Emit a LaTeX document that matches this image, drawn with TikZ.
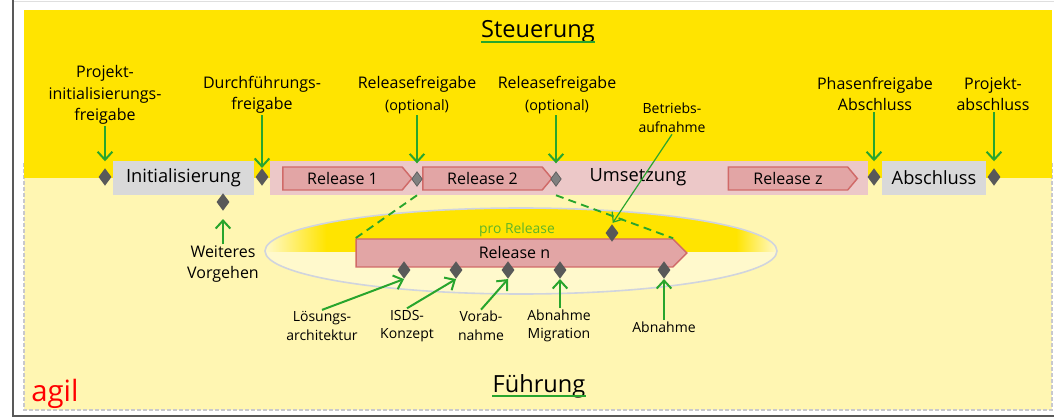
\documentclass[tikz,border=0pt]{standalone}
\usepackage{fontspec}
\setmainfont{Open Sans}
\usetikzlibrary{arrows.meta,positioning,shapes.geometric,shapes.symbols}

\definecolor{bandyellow}{RGB}{255,228,0}
\definecolor{lowyellow}{RGB}{255,246,178}
\definecolor{ellyellow}{RGB}{255,249,204}
\definecolor{phasegray}{RGB}{217,217,217}
\definecolor{umspink}{RGB}{236,200,200}
\definecolor{relfill}{RGB}{226,165,165}
\definecolor{reldraw}{RGB}{208,106,104}
\definecolor{msgray}{RGB}{89,89,89}
\definecolor{gategray}{RGB}{128,128,128}
\definecolor{arrgreen}{RGB}{40,165,45}
\definecolor{progreen}{RGB}{95,180,40}
\definecolor{ellline}{RGB}{208,212,222}
\definecolor{borderg}{RGB}{200,200,205}
\definecolor{agilred}{RGB}{255,0,0}

\pgfdeclarehorizontalshading{proshade}{100bp}{color(0bp)=(ellyellow); color(25bp)=(ellyellow);
  color(31bp)=(bandyellow); color(71bp)=(bandyellow); color(75bp)=(ellyellow); color(100bp)=(ellyellow)}

\tikzstyle{phase} = [rectangle, fill=phasegray, minimum height=25.5pt, inner sep=0pt,
    font=\fontsize{13.7}{16}\selectfont]
\tikzstyle{release} = [signal, signal to=east, signal pointer angle=100, draw=reldraw,
    line width=1.1pt, fill=relfill, inner sep=0pt, minimum width=96.75pt, minimum height=17.25pt,
    font=\fontsize{12}{14}\selectfont]
\tikzstyle{ms} = [diamond, fill=msgray, minimum width=9.8pt, minimum height=13.2pt, inner sep=0pt]
\tikzstyle{gate} = [diamond, fill=gategray, draw=msgray, line width=0.5pt,
    minimum width=8pt, minimum height=11pt, inner sep=0pt]
\tikzstyle{lbl} = [align=center, inner sep=1pt, font=\fontsize{12}{16}\selectfont]
\tikzstyle{smalllbl} = [align=center, inner sep=1pt, font=\fontsize{10.5}{14}\selectfont]
\tikzstyle{title} = [inner sep=0pt, font=\fontsize{17.7}{20}\selectfont]
\tikzstyle{uline} = [draw=arrgreen, line width=1.2pt]
\tikzstyle{line} = [draw=arrgreen, line width=1.5pt, -{Straight Barb[length=6pt,width=11pt]}]
\tikzstyle{thinline} = [draw=arrgreen, line width=0.9pt, -{Straight Barb[length=6pt,width=10pt]}]
\tikzstyle{dline} = [draw=arrgreen, line width=1.4pt, dash pattern=on 6pt off 4pt]

\begin{document}
\begin{tikzpicture}[x=0.75pt, y=-0.75pt]
      \useasboundingbox (0,0) rectangle (1054,417);
      % Frame and areas
      \draw[gray!25] (13,1) -- (1054,1);
      \draw[msgray, line width=0.8pt] (13,0) -- (13,416) -- (1054,416);
      \fill[lowyellow] (24,163) rectangle (1052,410);
      \draw[borderg, line width=0.8pt, dash pattern=on 3pt off 1.5pt] (24,163) -- (24,410) -- (1052,410) -- (1052,163);
      \fill[bandyellow] (24,10) rectangle (1052,178);
      % pro Release
      \begin{scope}
        \clip (521,251) ellipse [x radius=256, y radius=43];
        \fill[ellyellow] (265,205) rectangle (777,297);
        \shade[shading=proshade] (265,205) rectangle (777,252);
      \end{scope}
      \draw[ellline, line width=1.2pt] (521,251) ellipse [x radius=256, y radius=43];
      % Titles
      \node [title] (steu) at (538,32) {Steuerung};
      \node [title] (fuehr) at (539,386) {Führung};
      \node [inner sep=0pt, anchor=base west, text=agilred, font=\fontsize{22}{24}\selectfont] (agil) at (31,401) {agil};
      % Phases
      \node [phase, minimum width=105.75pt] (init) at (183.5,178) {Initialisierung};
      \node [phase, fill=umspink, minimum width=448.5pt] (umsetz) at (569,178) {};
      \node [phase, minimum width=78pt] (abschl) at (934,178) {Abschluss};
      \node [font=\fontsize{13.7}{16}\selectfont, inner sep=0pt] (umstxt) at (638,177) {Umsetzung};
      \node [release] (rel1) at (342.5,178.5) {Release 1};
      \node [release] (rel2) at (482.5,178.5) {Release 2};
      \node [release] (relz) at (788,178.5) {Release z};
      \node [release, signal pointer angle=90, minimum width=248pt, minimum height=21pt] (reln) at (514.5,253) {Release n};
      \node [text=progreen, inner sep=0pt, font=\fontsize{10.4}{12}\selectfont] (prolbl) at (517,230) {pro Release};
      % Milestones
      \node [ms] (d0) at (105,177) {};
      \node [ms] (d1) at (262,177) {};
      \node [ms] (dw) at (223,202) {};
      \node [gate] (g1) at (417,179) {};
      \node [gate] (g2) at (556,179) {};
      \node [ms] (d3) at (874,177) {};
      \node [ms] (d4) at (994,177) {};
      \node [ms] (db) at (612,233) {};
      \node [ms] (n1) at (404,270) {};
      \node [ms] (n2) at (456,270) {};
      \node [ms] (n3) at (508,270) {};
      \node [ms] (n4) at (560,270) {};
      \node [ms] (n5) at (664,270) {};
      % Labels
      \node [lbl] (projlbl) at (105,95) {Projekt-\\initialisierungs-\\freigabe};
      \node [lbl] (durchlbl) at (262,95) {Durchführungs-\\freigabe};
      \node [lbl] (rf1lbl) at (417,95) {Releasefreigabe\\{\fontsize{10.8}{14}\selectfont (optional)}};
      \node [lbl] (rf2lbl) at (557,95) {Releasefreigabe\\{\fontsize{10.8}{14}\selectfont (optional)}};
      \node [smalllbl] (betrlbl) at (672,118) {Betriebs-\\aufnahme};
      \node [lbl] (phaselbl) at (875,94) {Phasenfreigabe\\Abschluss};
      \node [lbl] (pabschlbl) at (993,94) {Projekt-\\abschluss};
      \node [lbl, font=\fontsize{12}{15.5}\selectfont] (weitlbl) at (223,264) {Weiteres\\Vorgehen};
      \node [smalllbl] (lsglbl) at (322,326) {Lösungs-\\architektur};
      \node [smalllbl] (isdslbl) at (407,326) {ISDS-\\Konzept};
      \node [smalllbl] (vorablbl) at (481,326) {Vorab-\\nahme};
      \node [smalllbl] (migrlbl) at (559,326) {Abnahme\\Migration};
      \node [smalllbl] (abnlbl) at (664,327) {Abnahme};
      % Draw edges
      \path [uline] ([yshift=-3pt]steu.base west) -- ([yshift=-3pt]steu.base east);
      \path [uline] ([yshift=-3pt]fuehr.base west) -- ([yshift=-3pt]fuehr.base east);
      \path [dline] (g1 |- umsetz.south) -- (reln.north west);
      \path [dline] (g2 |- umsetz.south) -- (reln.north east);
      \path [line, shorten >=5pt] (d0.north |- projlbl.south) -- (d0.north);
      \path [line] (d1.north |- durchlbl.south) -- (d1.north);
      \path [line, shorten >=6pt] (g1.north |- rf1lbl.south) -- (g1.north);
      \path [line, shorten >=6pt] (g2.north |- rf2lbl.south) -- (g2.north);
      \path [thinline, shorten >=1pt] (betrlbl.south) -- (db.north);
      \path [line, shorten >=5pt] (d3.north |- phaselbl.south) -- (d3.north);
      \path [line, shorten >=5pt] (d4.north |- pabschlbl.south) -- (d4.north);
      \path [line, shorten >=6pt] (weitlbl.north) -- (dw.south);
      \path [line] (lsglbl.north) -- (n1.south);
      \path [line] (isdslbl.north) -- (n2.south);
      \path [line] (vorablbl.north) -- (n3.south);
      \path [line] (n4.south |- migrlbl.north) -- (n4.south);
      \path [line] (n5.south |- abnlbl.north) -- (n5.south);
  \end{tikzpicture}
\end{document}
